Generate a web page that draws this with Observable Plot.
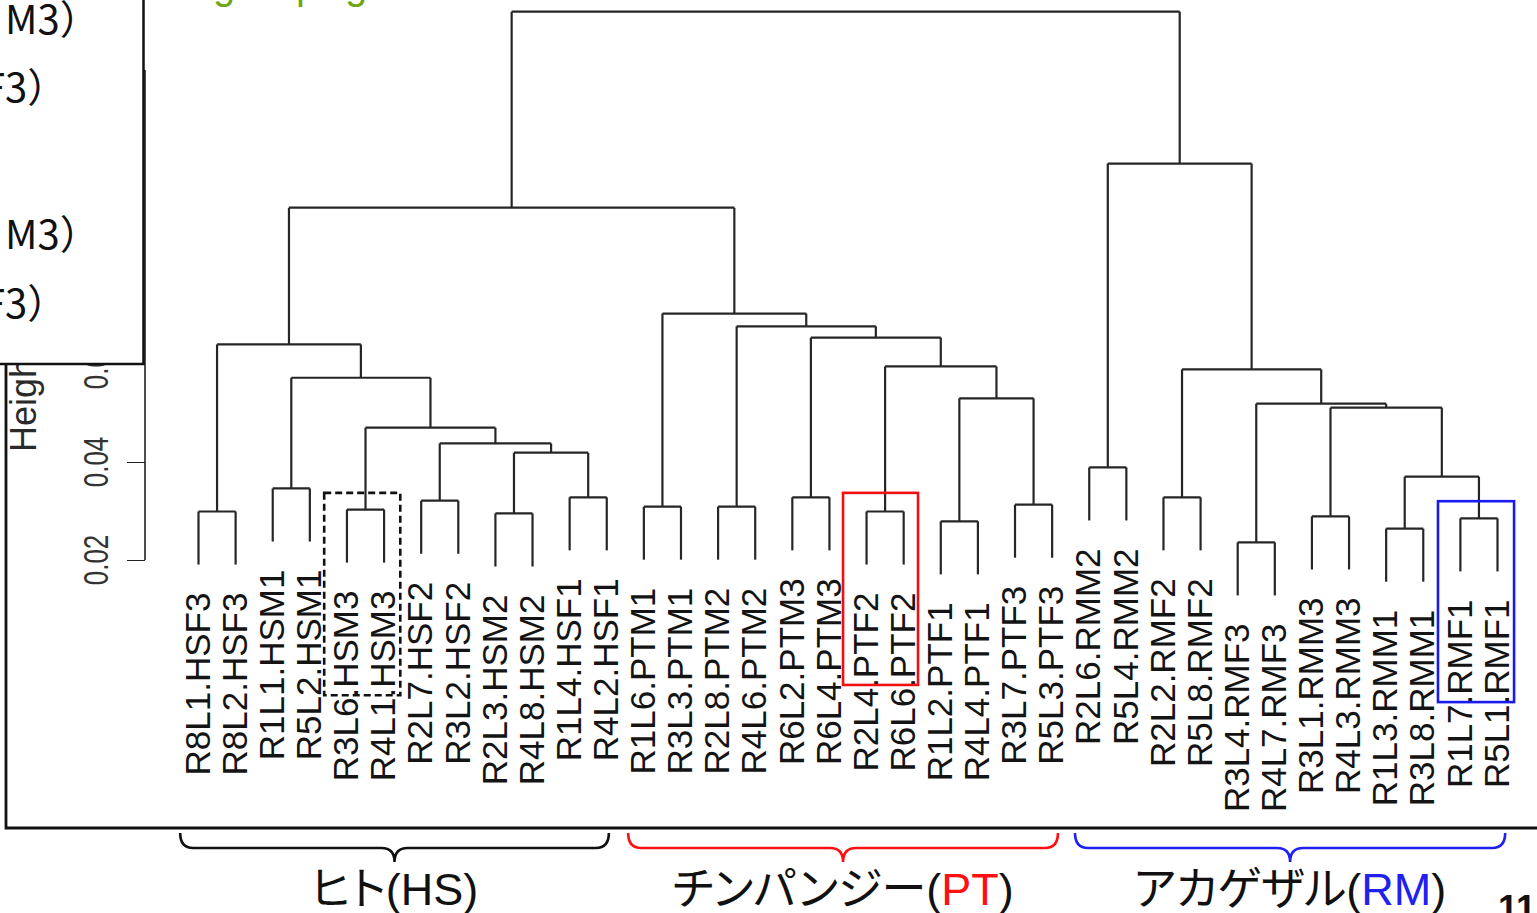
<!DOCTYPE html>
<html><head><meta charset="utf-8">
<script src="https://cdn.jsdelivr.net/npm/d3@7"></script>
<script src="https://cdn.jsdelivr.net/npm/@observablehq/plot@0.6"></script>
<style>
html,body{margin:0;padding:0;background:#fff;overflow:hidden}
#chart svg{display:block}
</style></head><body><div id="chart"></div>
<script>
// ---- data ----
const leafLabels = [
  "R8L1.HSF3","R8L2.HSF3","R1L1.HSM1","R5L2.HSM1","R3L6.HSM3","R4L1.HSM3",
  "R2L7.HSF2","R3L2.HSF2","R2L3.HSM2","R4L8.HSM2","R1L4.HSF1","R4L2.HSF1",
  "R1L6.PTM1","R3L3.PTM1","R2L8.PTM2","R4L6.PTM2","R6L2.PTM3","R6L4.PTM3",
  "R2L4.PTF2","R6L6.PTF2","R1L2.PTF1","R4L4.PTF1","R3L7.PTF3","R5L3.PTF3",
  "R2L6.RMM2","R5L4.RMM2","R2L2.RMF2","R5L8.RMF2","R3L4.RMF3","R4L7.RMF3",
  "R3L1.RMM3","R4L3.RMM3","R1L3.RMM1","R3L8.RMM1","R1L7.RMF1","R5L1.RMF1"
];
// merge rows (R hclust style): negative = leaf number (display order), positive = earlier row
const merges = [
  [-1,-2],[-3,-4],[-5,-6],[-7,-8],[-9,-10],[-11,-12],
  [5,6],[4,7],[3,8],[2,9],[1,10],
  [-13,-14],[-15,-16],[-17,-18],[-19,-20],[-21,-22],[-23,-24],
  [16,17],[15,18],[14,19],[13,20],[12,21],
  [11,22],
  [-25,-26],[-27,-28],[-29,-30],[-31,-32],[-33,-34],[-35,-36],
  [28,29],[27,30],[26,31],[25,32],[24,33],
  [23,34]
];
const mergeHeights = [
  0.0300,0.0347,0.0304,0.0322,0.0296,0.0329,
  0.0420,0.0439,0.0471,0.0573,0.0641,
  0.0310,0.0310,0.0329,0.0300,0.0280,0.0314,
  0.0531,0.0596,0.0655,0.0678,0.0704,
  0.0920,
  0.0390,0.0329,0.0237,0.0290,0.0265,0.0286,
  0.0371,0.0512,0.0520,0.0590,0.1010,
  0.1320
];
const yTicks = [0.02,0.04,0.06,0.08,0.10,0.12];
const yLabel = "Height";
const groupNames = ["ヒト","チンパンジー","アカゲザル"];
const groupCodes = ["HS","PT","RM"];
const groupColors = ["#111111","#ff1010","#2020f0"];
const groupLeafRanges = [[0.52,12.07],[12.59,24.17],[24.63,36.22]];
const highlightRanges = [[4.4,6.45],[18.38,20.4],[34.41,36.46]];
const highlightColors = ["#111111","#ee1111","#1a1aee"];
const legendFragments = ["M3）","F3）","M3）","F3）"];
const headerFragments = ["g","p","g"];
const pageNumber = "11";

// ---- dendrogram layout from the merge table ----
const hang = 0.1 * (d3.max(mergeHeights) - d3.min(mergeHeights));
const nodeX = [];
const leafEnd = new Array(leafLabels.length);
const segs = [];
merges.forEach(([a, b], k) => {
  const h = mergeHeights[k];
  const cx = c => c < 0 ? -c : nodeX[c - 1];
  const ch = c => c < 0 ? h - hang : mergeHeights[c - 1];
  for (const c of [a, b]) if (c < 0) leafEnd[-c - 1] = h - hang;
  const xa = cx(a), xb = cx(b);
  nodeX[k] = (xa + xb) / 2;
  segs.push({x1: xa, y1: h, x2: xb, y2: h});
  segs.push({x1: xa, y1: h, x2: xa, y2: ch(a)});
  segs.push({x1: xb, y1: h, x2: xb, y2: ch(b)});
});
const leaves = leafLabels.map((label, i) => ({label, i: i + 1, y: leafEnd[i]}));
const rects = highlightRanges.map((r, i) => ({x1: r[0], x2: r[1], color: highlightColors[i], dashed: i === 0}));

const LINE = "#262626";
const SANS = "'Liberation Sans', Arial, sans-serif";
const CJK = "'Noto Sans CJK JP', sans-serif";

// y axis line, tick labels, axis title; slide frame
function axisDecor(index, {y}, values, dim) {
  const g = d3.create("svg:g");
  g.append("line").attr("x1", dim.marginLeft).attr("x2", dim.marginLeft)
    .attr("y1", y(yTicks[0])).attr("y2", y(yTicks[yTicks.length - 1]))
    .attr("stroke", "#222").attr("stroke-width", 1.6);
  const tl = g.append("g").attr("font-family", SANS).attr("font-size", 26).attr("fill", "#333").attr("text-anchor", "middle");
  yTicks.forEach(v => tl.append("text")
    .attr("transform", `translate(${dim.marginLeft - 50},${y(v)}) rotate(-90) scale(1,1.34)`)
    .attr("dy", "0.36em").text(v.toFixed(2)));
  g.append("text").attr("font-family", SANS).attr("font-size", 36).attr("fill", "#2a2a2a").attr("text-anchor", "start")
    .attr("transform", `translate(${dim.marginLeft - 122},452) rotate(-90)`).attr("dy", "0.36em").text(yLabel);
  // slide frame
  g.append("path").attr("d", `M6,${dim.height * 0.35} L6,828 L${dim.width},828`)
    .attr("fill", "none").attr("stroke", "#111").attr("stroke-width", 2.8);
  return g.node();
}

function legendBox(index, scales, values, dim) {
  const g = d3.create("svg:g").attr("text-anchor", "start");
  g.append("rect").attr("x", -4).attr("y", -4).attr("width", 147.5).attr("height", 368)
    .attr("fill", "#fff").attr("stroke", "#111").attr("stroke-width", 2.5);
  const t = g.append("g").attr("font-family", CJK).attr("font-size", 40).attr("fill", "#111");
  const pos = [[5, 34], [-17, 102], [5, 249], [-17, 318]];
  legendFragments.forEach((s, i) => t.append("text").attr("x", pos[i][0]).attr("y", pos[i][1]).text(s));
  const h = g.append("g").attr("font-family", SANS).attr("font-size", 40).attr("fill", "#6ea614");
  const hp = [213, 296, 345];
  headerFragments.forEach((s, i) => h.append("text").attr("x", hp[i]).attr("y", -1).text(s));
  return g.node();
}

function braces(index, {x}, values, dim) {
  const g = d3.create("svg:g");
  const y0 = 833, y1 = 848, y2 = 862, r = 13;
  groupLeafRanges.forEach(([a, b], i) => {
    const xa = x(a), xb = x(b), xm = (xa + xb) / 2;
    const d = `M${xa},${y0} Q${xa},${y1} ${xa + r},${y1} L${xm - r},${y1} Q${xm},${y1} ${xm},${y2} ` +
              `Q${xm},${y1} ${xm + r},${y1} L${xb - r},${y1} Q${xb},${y1} ${xb},${y0}`;
    g.append("path").attr("d", d).attr("fill", "none").attr("stroke", groupColors[i]).attr("stroke-width", 2.6);
    const t = g.append("text").attr("x", xm).attr("y", 905).attr("text-anchor", "middle")
      .attr("font-size", 45).attr("fill", "#111")
      .attr("font-family", CJK)
      .style("font-feature-settings", "'palt'");
    t.append("tspan").text(groupNames[i]);
    t.append("tspan").attr("font-family", SANS).text("(");
    t.append("tspan").attr("font-family", SANS).attr("fill", i === 0 ? "#111" : groupColors[i]).text(groupCodes[i]);
    t.append("tspan").attr("font-family", SANS).text(")");
  });
  g.append("text").attr("x", 1498).attr("y", 921).attr("text-anchor", "start").attr("font-size", 36)
    .attr("font-weight", "bold").attr("font-family", SANS).attr("fill", "#111").text(pageNumber);
  return g.node();
}

const chart = Plot.plot({
  width: 1537, height: 913,
  marginLeft: 145, marginRight: 0, marginTop: 70, marginBottom: 353,
  x: {domain: [1, leafLabels.length], range: [198, 1497], axis: null},
  y: {domain: [yTicks[0], yTicks[yTicks.length - 1]], axis: null},
  style: {fontFamily: SANS, background: "#fff", overflow: "hidden"},
  marks: [
    Plot.link(segs, {x1: "x1", y1: "y1", x2: "x2", y2: "y2", stroke: LINE, strokeWidth: 2.2}),
    Plot.text(leaves, {x: "i", y: "y", text: "label", rotate: -90, textAnchor: "end", lineAnchor: "middle",
      dy: 28, fontSize: 35, fill: "#141414"}),
    Plot.rect(rects.filter(d => d.dashed), {x1: "x1", x2: "x2", y1: 0.0337, y2: -0.0076, fill: "none",
      stroke: "color", strokeWidth: 2.6, strokeDasharray: "7,4"}),
    Plot.rect(rects.filter(d => !d.dashed), {x1: "x1", x2: "x2", y1: (d, i) => i === 0 ? 0.0337 : 0.0320,
      y2: (d, i) => i === 0 ? -0.0055 : -0.0090, fill: "none", stroke: "color", strokeWidth: 2.6}),
    Plot.axisY({ticks: yTicks, tickSize: 18, tickFormat: () => "", label: null, stroke: "#222"}),
    axisDecor,
    legendBox,
    braces
  ]
});
document.getElementById("chart").appendChild(chart);
</script>
</body></html>
